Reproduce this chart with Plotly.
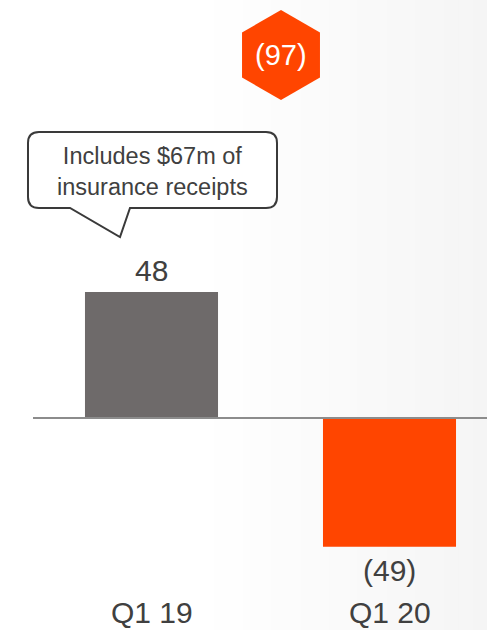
import plotly.graph_objects as go

categories = ["Q1 19", "Q1 20"]
values = [48, -49]
value_labels = ["48", "(49)"]
bar_colors = ["#6e6a6a", "#ff4500"]
total_label = "(97)"
callout_text = "Includes $67m of<br>insurance receipts"

W, H = 487, 630
FONT = "Liberation Sans, Arial, sans-serif"
TXT = "#404040"


def px(x):
    return x / W


def py(y):
    return 1 - y / H


def pt(x, y):
    return f"{px(x):.5f},{py(y):.5f}"


fig = go.Figure()
fig.add_trace(go.Bar(
    x=[0, 1], y=values, width=0.559,
    marker=dict(color=bar_colors, line=dict(width=0)),
    hoverinfo="skip",
))

shapes = []
# subtle background gradient
n = 40
for i in range(n):
    x0 = 200 + (W - 200) * i / n
    x1 = 200 + (W - 200) * (i + 1) / n
    v = int(round(255 - 10 * (i + 0.5) / n))
    shapes.append(dict(type="rect", xref="paper", yref="paper",
                       x0=px(x0), x1=px(x1) + 0.002, y0=0, y1=1,
                       fillcolor=f"rgb({v},{v},{v})", line=dict(width=0), layer="below"))

# baseline
shapes.append(dict(type="line", xref="paper", yref="y", x0=px(33), x1=1, y0=0, y1=0,
                   line=dict(color="#8c8c8c", width=2), layer="above"))

# hexagon
cx, cy, r = 281, 55, 45
hx = 0.866 * r
hexpts = [(cx, cy - r), (cx + hx, cy - r / 2), (cx + hx, cy + r / 2), (cx, cy + r),
          (cx - hx, cy + r / 2), (cx - hx, cy - r / 2)]
shapes.append(dict(type="path", xref="paper", yref="paper",
                   path="M " + " L ".join(pt(a, b) for a, b in hexpts) + " Z",
                   fillcolor="#ff4500", line=dict(width=0)))

# callout bubble
L, R, T, B, rr = 28, 277, 132, 208, 11
path = (f"M {pt(L + rr, T)} L {pt(R - rr, T)} Q {pt(R, T)} {pt(R, T + rr)} "
        f"L {pt(R, B - rr)} Q {pt(R, B)} {pt(R - rr, B)} "
        f"L {pt(130, B)} L {pt(120, 237)} L {pt(70, B)} "
        f"L {pt(L + rr, B)} Q {pt(L, B)} {pt(L, B - rr)} "
        f"L {pt(L, T + rr)} Q {pt(L, T)} {pt(L + rr, T)} Z")
shapes.append(dict(type="path", xref="paper", yref="paper", path=path,
                   fillcolor="white", line=dict(color="#3a3a3a", width=2)))

annotations = []
for i, (v, lab) in enumerate(zip(values, value_labels)):
    annotations.append(dict(x=i, y=v, xref="x", yref="y", text=lab, showarrow=False,
                            xanchor="center",
                            yanchor="bottom" if v >= 0 else "top",
                            yshift=3 if v >= 0 else -5,
                            font=dict(family=FONT, size=30, color=TXT)))
    annotations.append(dict(x=i, y=py(612), xref="x", yref="paper", text=categories[i],
                            showarrow=False, xanchor="center", yanchor="middle",
                            font=dict(family=FONT, size=30, color=TXT)))

annotations.append(dict(x=px(cx), y=py(cy), xref="paper", yref="paper", text=total_label,
                        showarrow=False, xanchor="center", yanchor="middle",
                        font=dict(family=FONT, size=29, color="white")))
annotations.append(dict(x=px(152), y=py(172), xref="paper", yref="paper", text=callout_text,
                        showarrow=False, xanchor="center", yanchor="middle",
                        font=dict(family=FONT, size=23.5, color=TXT)))

x0 = -151.5 / 238
x1 = (W - 151.5) / 238
k = 2.625
fig.update_layout(
    width=W, height=H, margin=dict(l=0, r=0, t=0, b=0, pad=0),
    paper_bgcolor="white", plot_bgcolor="rgba(0,0,0,0)",
    showlegend=False, shapes=shapes, annotations=annotations,
    xaxis=dict(range=[x0, x1], visible=False, fixedrange=True),
    yaxis=dict(range=[-(H - 418) / k, 418 / k], visible=False, fixedrange=True),
)

fig.write_html("out.html")
